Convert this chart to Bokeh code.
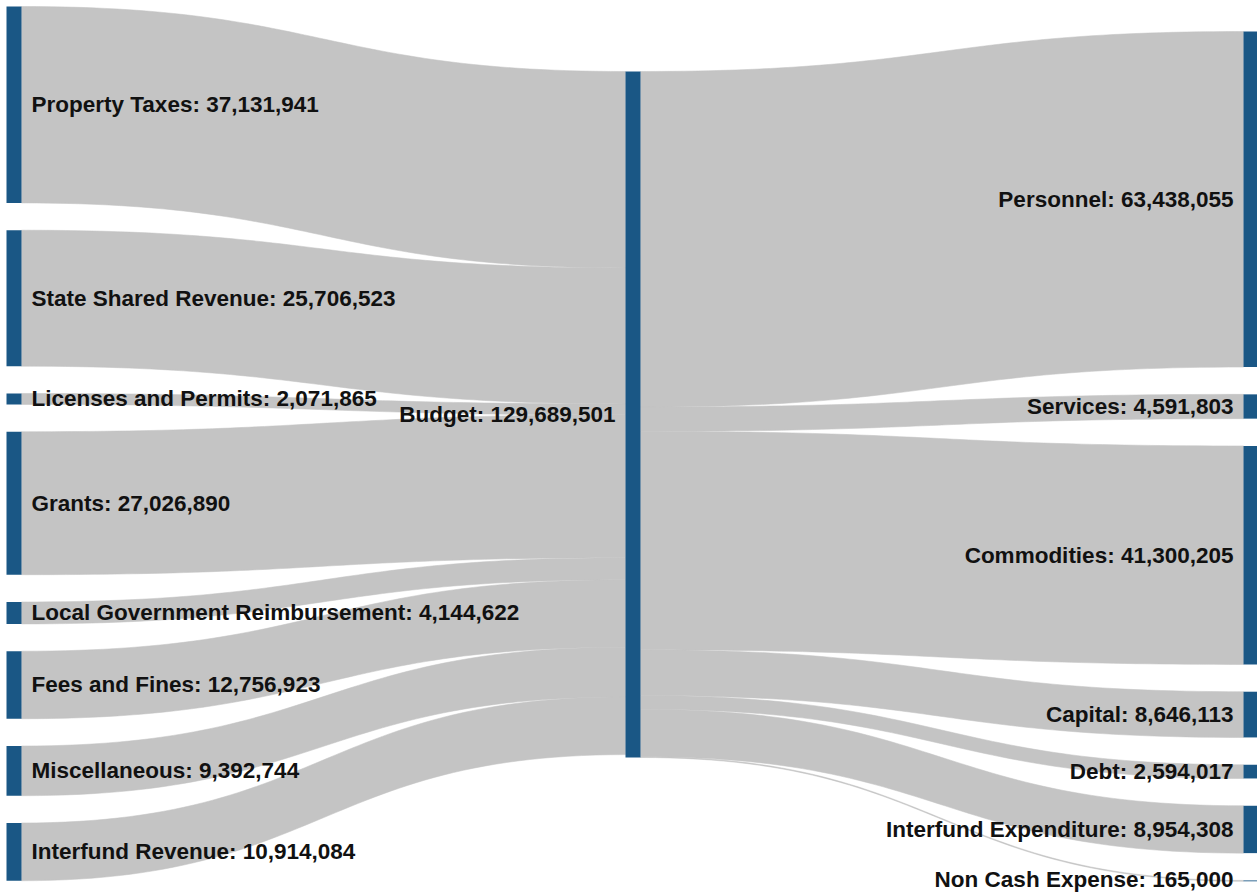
import numpy as np
from bokeh.plotting import figure
from bokeh.models import Range1d, ColumnDataSource
from bokeh.core.properties import value
from bokeh.embed import file_html
from bokeh.resources import INLINE

# ---- data ----
center_name = "Budget"
sources = ["Property Taxes", "State Shared Revenue", "Licenses and Permits", "Grants",
           "Local Government Reimbursement", "Fees and Fines", "Miscellaneous", "Interfund Revenue"]
source_values = [37131941, 25706523, 2071865, 27026890, 4144622, 12756923, 9392744, 10914084]
targets = ["Personnel", "Services", "Commodities", "Capital", "Debt",
           "Interfund Expenditure", "Non Cash Expense"]
target_values = [63438055, 4591803, 41300205, 8646113, 2594017, 8954308, 165000]

# ---- layout parameters ----
W, H = 1257, 892
NODE_W = 15
GAP = 27.3
COL_X = [6, 625, 1243]
COL_TOP = [6, 71, 31]
NODE_COLOR = "#1a5785"
LINK_COLOR = "#c4c4c4"
FONT = value("Liberation Sans")
FSIZE = "22.5px"
LABEL_MAX_Y = H - 13

total = max(sum(source_values), sum(target_values))
k = 686.0 / total  # pixels per unit


def stack(values, top):
    y0s, y1s = [], []
    y = top
    for v in values:
        y0s.append(y)
        y += v * k
        y1s.append(y)
        y += GAP
    return y0s, y1s


ls0, ls1 = stack(source_values, COL_TOP[0])
rs0, rs1 = stack(target_values, COL_TOP[2])
c0 = COL_TOP[1]
c1 = c0 + total * k


def band(xa, ya0, ya1, xb, yb0, yb1, n=60):
    t = np.linspace(0, 1, n)
    xm = (xa + xb) / 2.0

    def bez(p0, p1, p2, p3):
        return ((1 - t) ** 3) * p0 + 3 * ((1 - t) ** 2) * t * p1 + 3 * (1 - t) * t ** 2 * p2 + t ** 3 * p3

    xs = bez(xa, xm, xm, xb)
    top = bez(ya0, ya0, yb0, yb0)
    bot = bez(ya1, ya1, yb1, yb1)
    return list(xs) + list(xs[::-1]), list(top) + list(bot[::-1])


link_xs, link_ys = [], []
# incoming links
y_in = c0
for v, a0, a1 in zip(source_values, ls0, ls1):
    h = v * k
    xs, ys = band(COL_X[0] + NODE_W, a0, a1, COL_X[1], y_in, y_in + h)
    link_xs.append(xs); link_ys.append(ys)
    y_in += h
# outgoing links
y_out = c0
for v, b0, b1 in zip(target_values, rs0, rs1):
    h = v * k
    xs, ys = band(COL_X[1] + NODE_W, y_out, y_out + h, COL_X[2], b0, b1)
    link_xs.append(xs); link_ys.append(ys)
    y_out += h

p = figure(width=W, height=H, x_range=Range1d(0, W), y_range=Range1d(H, 0),
           output_backend="svg", toolbar_location=None, min_border=0)
p.axis.visible = False
p.grid.visible = False
p.outline_line_color = None
p.background_fill_color = "white"

p.patches(xs=link_xs, ys=link_ys, fill_color=LINK_COLOR, line_color=LINK_COLOR,
          line_width=0.6, line_alpha=0.9)

# nodes
nx0 = [COL_X[0]] * len(sources) + [COL_X[1]] + [COL_X[2]] * len(targets)
ny0 = ls0 + [c0] + rs0
ny1 = ls1 + [c1] + rs1
p.quad(left=nx0, right=[x + NODE_W for x in nx0], top=ny0, bottom=ny1,
       fill_color=NODE_COLOR, line_color=None)

# labels
left_src = ColumnDataSource(dict(
    x=[COL_X[0] + NODE_W + 10] * len(sources),
    y=[min((a + b) / 2, LABEL_MAX_Y) for a, b in zip(ls0, ls1)],
    t=[f"{n}: {v:,}" for n, v in zip(sources, source_values)]))
p.text(x="x", y="y", text="t", source=left_src, text_align="left", text_baseline="middle",
       text_font=FONT, text_font_style="bold", text_font_size=FSIZE, text_color="#111111")

right_src = ColumnDataSource(dict(
    x=[COL_X[1] - 10] + [COL_X[2] - 10] * len(targets),
    y=[(c0 + c1) / 2] + [min((a + b) / 2, LABEL_MAX_Y) for a, b in zip(rs0, rs1)],
    t=[f"{center_name}: {total:,}"] + [f"{n}: {v:,}" for n, v in zip(targets, target_values)]))
p.text(x="x", y="y", text="t", source=right_src, text_align="right", text_baseline="middle",
       text_font=FONT, text_font_style="bold", text_font_size=FSIZE, text_color="#111111")

open("out.html", "w").write(file_html(p, INLINE))
